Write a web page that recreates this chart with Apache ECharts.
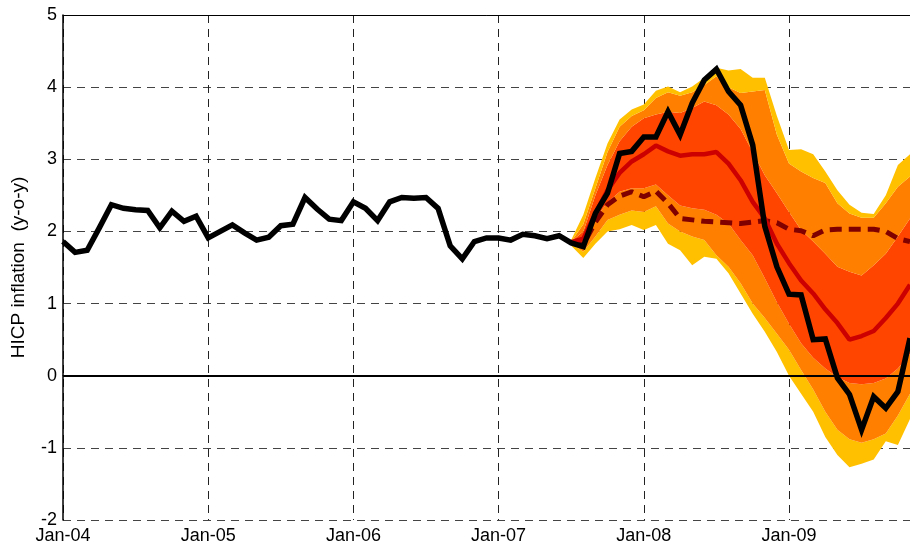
<!DOCTYPE html>
<html>
<head>
<meta charset="utf-8">
<script src="https://cdn.jsdelivr.net/npm/echarts@6/dist/echarts.min.js"></script>
<style>
  html, body { margin: 0; padding: 0; background: #fff; }
  #chart { width: 910px; height: 550px; }
</style>
</head>
<body>
<div id="chart"></div>
<script>
// ---- Data ----
const monthNames = ['Jan','Feb','Mar','Apr','May','Jun','Jul','Aug','Sep','Oct','Nov','Dec'];
const years = ['04','05','06','07','08','09'];
const categories = [];
years.forEach(function (y) { monthNames.forEach(function (m) { categories.push(m + '-' + y); }); });
categories.length = 71; // Jan-04 ... Nov-09

const tickLabels = ['Jan-04','Jan-05','Jan-06','Jan-07','Jan-08','Jan-09'];

// HICP inflation (y-o-y), Jan-04 .. Nov-09
const hicp = [
  1.86, 1.71, 1.74, 2.05, 2.37, 2.32, 2.30, 2.29, 2.05, 2.28, 2.14, 2.21,
  1.91, 2.00, 2.09, 1.98, 1.88, 1.92, 2.08, 2.10, 2.47, 2.31, 2.17, 2.15,
  2.41, 2.32, 2.15, 2.41, 2.47, 2.46, 2.47, 2.32, 1.80, 1.62, 1.86, 1.91,
  1.91, 1.88, 1.96, 1.94, 1.90, 1.94, 1.84, 1.79, 2.25, 2.53, 3.08, 3.11,
  3.31, 3.31, 3.66, 3.34, 3.78, 4.10, 4.25, 3.94, 3.75, 3.20, 2.07, 1.51,
  1.13, 1.12, 0.50, 0.51, -0.03, -0.26, -0.75, -0.29, -0.45, -0.22, 0.52
];

// Fan chart, Jul-07 .. Nov-09 (index 42 .. 70)
const fanStart = 42;
const yellowUpper = [1.88, 2.23, 2.74, 3.22, 3.55, 3.69, 3.76, 3.95, 4.01, 3.93, 4.01, 4.13, 4.27, 4.23, 4.25, 4.13, 4.13, 3.60, 3.13, 3.14, 3.07, 2.83, 2.57, 2.37, 2.26, 2.24, 2.50, 2.92, 3.07];
const orangeUpper = [1.86, 2.10, 2.60, 3.10, 3.45, 3.60, 3.68, 3.85, 3.93, 3.88, 3.93, 4.03, 4.15, 4.00, 3.92, 3.94, 3.96, 3.34, 2.94, 2.83, 2.74, 2.67, 2.39, 2.25, 2.19, 2.19, 2.39, 2.62, 2.76];
const redUpper    = [1.86, 2.00, 2.50, 2.92, 3.25, 3.45, 3.57, 3.62, 3.66, 3.64, 3.71, 3.80, 3.75, 3.62, 3.42, 3.10, 2.78, 2.53, 2.27, 2.02, 1.86, 1.69, 1.51, 1.44, 1.39, 1.53, 1.69, 1.93, 2.18];
const median      = [1.85, 1.90, 2.25, 2.57, 2.81, 2.97, 3.07, 3.19, 3.11, 3.05, 3.07, 3.07, 3.10, 2.94, 2.71, 2.41, 2.18, 1.83, 1.56, 1.32, 1.14, 0.92, 0.73, 0.50, 0.55, 0.62, 0.80, 1.00, 1.26];
const redLower    = [1.84, 1.82, 2.18, 2.40, 2.55, 2.60, 2.60, 2.65, 2.50, 2.36, 2.32, 2.30, 2.23, 2.11, 1.88, 1.67, 1.35, 1.02, 0.72, 0.45, 0.25, 0.10, -0.02, -0.10, -0.12, -0.10, -0.04, 0.10, 0.30];
const orangeLower = [1.83, 1.72, 1.93, 2.16, 2.23, 2.29, 2.27, 2.35, 2.11, 2.00, 1.93, 1.88, 1.67, 1.51, 1.28, 1.00, 0.80, 0.58, 0.36, 0.08, -0.19, -0.50, -0.75, -0.88, -0.93, -0.88, -0.80, -0.55, -0.25];
const yellowLower = [1.80, 1.63, 1.83, 2.00, 2.03, 2.09, 2.02, 2.09, 1.83, 1.74, 1.53, 1.65, 1.62, 1.42, 1.14, 0.86, 0.61, 0.33, 0.00, -0.25, -0.50, -0.85, -1.10, -1.27, -1.22, -1.16, -0.91, -0.96, -0.60];
const earlierProjection = [1.85, 1.82, 2.13, 2.37, 2.49, 2.55, 2.48, 2.56, 2.39, 2.18, 2.16, 2.14, 2.13, 2.12, 2.11, 2.13, 2.15, 2.12, 2.03, 2.01, 1.94, 2.02, 2.03, 2.03, 2.03, 2.03, 2.00, 1.90, 1.86];

// ---- Helpers to build library input ----
function pad(arr) {
  const out = [];
  for (let i = 0; i < fanStart; i++) out.push(null);
  return out.concat(arr);
}
function diff(a, b) { return a.map(function (v, i) { return +(v - b[i]).toFixed(4); }); }

const YELLOW = '#FFC000', ORANGE = '#FF8000', RED_ORANGE = '#FF4500';
const FONT = 'Liberation Sans, Arial, sans-serif';

function band(name, data, color) {
  return {
    name: name, type: 'line', stack: 'fan', stackStrategy: 'all',
    data: pad(data), symbol: 'none', silent: true,
    lineStyle: { width: 0, opacity: 0 },
    areaStyle: { color: color, opacity: 1 },
    z: 2
  };
}

const isJan = function (index) { return index % 12 === 0; };

const chart = echarts.init(document.getElementById('chart'), null, { renderer: 'canvas' });
chart.setOption({
  animation: false,
  backgroundColor: '#fff',
  grid: { left: 63, right: 0, top: 15, bottom: 30, containLabel: false },
  xAxis: [{
    type: 'category', data: categories, boundaryGap: false,
    axisLine: { show: true, lineStyle: { color: '#000', width: 1 } },
    axisTick: { show: false },
    axisLabel: {
      interval: isJan, margin: 7, color: '#000',
      fontFamily: FONT, fontSize: 18,
      formatter: function (v) { return tickLabels.indexOf(v) >= 0 ? v : ''; }
    },
    splitLine: { show: true, interval: isJan, lineStyle: { color: '#222', width: 1, type: [8, 6] } }
  }, {
    type: 'category', data: categories, boundaryGap: false, position: 'top',
    axisLine: { show: true, lineStyle: { color: '#000', width: 1 } },
    axisTick: { show: false }, axisLabel: { show: false }, splitLine: { show: false }
  }],
  yAxis: {
    type: 'value', min: -2, max: 5, interval: 1,
    name: 'HICP inflation  (y-o-y)', nameLocation: 'middle', nameGap: 35, nameRotate: 90,
    nameTextStyle: { color: '#000', fontFamily: FONT, fontSize: 19 },
    axisLine: { show: true, lineStyle: { color: '#000', width: 1.5 } },
    axisTick: { show: false },
    axisLabel: { margin: 6, color: '#000', fontFamily: FONT, fontSize: 18 },
    splitLine: { show: true, lineStyle: { color: '#444', width: 1, type: [8, 6] } }
  },
  series: [
    {
      name: 'base', type: 'line', stack: 'fan', stackStrategy: 'all',
      data: pad(yellowLower), symbol: 'none', silent: true,
      lineStyle: { width: 0, opacity: 0 }, z: 2
    },
    band('y-low', diff(orangeLower, yellowLower), YELLOW),
    band('o-low', diff(redLower, orangeLower), ORANGE),
    band('r-mid', diff(redUpper, redLower), RED_ORANGE),
    band('o-up', diff(orangeUpper, redUpper), ORANGE),
    band('y-up', diff(yellowUpper, orangeUpper), YELLOW),
    {
      name: 'earlier', type: 'line', data: pad(earlierProjection), symbol: 'none', silent: true,
      lineStyle: { color: '#800000', width: 5, type: [12, 7] }, z: 4
    },
    {
      name: 'median', type: 'line', data: pad(median), symbol: 'none', silent: true,
      lineStyle: { color: '#CC0000', width: 4.5 }, z: 5
    },
    {
      name: 'hicp', type: 'line', data: hicp, symbol: 'none', silent: true,
      lineStyle: { color: '#000', width: 5.5, join: 'miter' }, z: 6,
      markLine: {
        silent: true, symbol: 'none', label: { show: false },
        lineStyle: { color: '#000', width: 2, type: 'solid' },
        data: [{ yAxis: 0 }]
      }
    }
  ]
});
</script>
</body>
</html>
